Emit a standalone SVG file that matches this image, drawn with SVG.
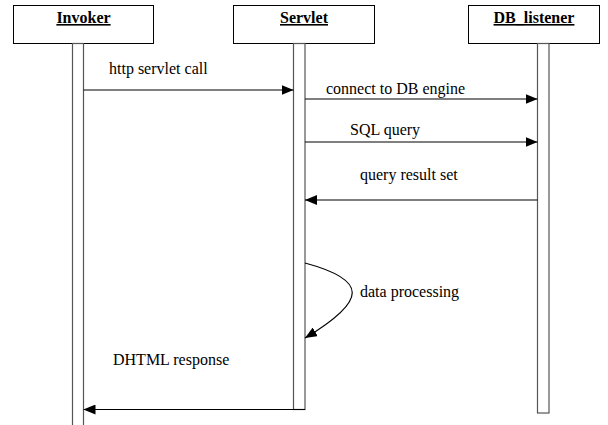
<svg xmlns="http://www.w3.org/2000/svg" width="608" height="425" viewBox="0 0 608 425">
<style>
.box{fill:#fff;stroke:#000;stroke-width:1}
.bar{fill:#fff;stroke:#555;stroke-width:1.2}
.title{font-family:"Liberation Serif","Times New Roman",serif;font-size:16px;font-weight:bold;text-decoration:underline;text-anchor:middle;fill:#000}
.lbl{font-family:"Liberation Serif","Times New Roman",serif;font-size:16px;font-weight:normal;fill:#000}
.msg{fill:none;stroke:#000;stroke-width:1.2}
</style>
<defs>
<marker id="ah" viewBox="0 0 12 10" refX="12" refY="5" markerWidth="12" markerHeight="10" markerUnits="userSpaceOnUse" orient="auto">
<path d="M0,0 L12,5 L0,10 Z" fill="#000"/>
</marker>
</defs>
<rect width="608" height="425" fill="#fff"/>
<g id="invoker">
<rect class="box" x="13.5" y="5.5" width="140" height="38"/>
<text class="title" x="83.5" y="23">Invoker</text>
<rect class="bar" x="72.5" y="43.5" width="11" height="390"/>
</g>
<g id="servlet">
<rect class="box" x="233.5" y="5.5" width="141" height="38"/>
<text class="title" x="304" y="23">Servlet</text>
<rect class="bar" x="293.5" y="43.5" width="11.5" height="366"/>
</g>
<g id="db_listener">
<rect class="box" x="468.5" y="5.5" width="131" height="38"/>
<text class="title" x="534" y="23">DB_listener</text>
<rect class="bar" x="537.5" y="43.5" width="11.5" height="369.5"/>
</g>
<g id="connectors">
<line class="msg" x1="83.5" y1="90" x2="293.5" y2="90" marker-end="url(#ah)"/>
<text class="lbl" x="109" y="74">http servlet call</text>
<line class="msg" x1="305" y1="99" x2="537.5" y2="99" marker-end="url(#ah)"/>
<text class="lbl" x="326" y="94">connect to DB engine</text>
<line class="msg" x1="305" y1="142" x2="537.5" y2="142" marker-end="url(#ah)"/>
<text class="lbl" x="350" y="135">SQL query</text>
<line class="msg" x1="537.5" y1="200" x2="305" y2="200" marker-end="url(#ah)"/>
<text class="lbl" x="360" y="180">query result set</text>
<path class="msg" d="M305,263 C368,280 368,300 305,338" marker-end="url(#ah)"/>
<text class="lbl" x="360" y="297">data processing</text>
<line class="msg" x1="305" y1="409.5" x2="83.5" y2="409.5" marker-end="url(#ah)"/>
<text class="lbl" x="113" y="365">DHTML response</text>
</g>
</svg>
